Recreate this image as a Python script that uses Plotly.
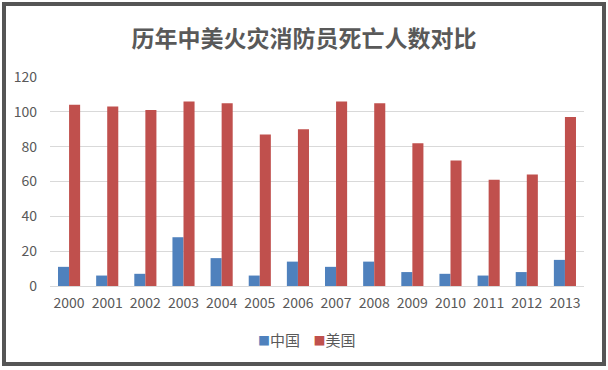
import plotly.graph_objects as go

years = ["2000", "2001", "2002", "2003", "2004", "2005", "2006",
         "2007", "2008", "2009", "2010", "2011", "2012", "2013"]
china = [11, 6, 7, 28, 16, 6, 14, 11, 14, 8, 7, 6, 8, 15]
usa = [104, 103, 101, 106, 105, 87, 90, 106, 105, 82, 72, 61, 64, 97]
series_names = ["中国", "美国"]
colors = ["#4F81BD", "#C0504D"]

W, H = 608, 370
L, R, T, B = 50, 24, 77, 84
pw, ph = W - L - R, H - T - B

def px(x):
    return (x - L) / pw

def py(y):
    return (H - B - y) / ph

FONT = "Noto Sans CJK SC, Microsoft YaHei, sans-serif"
GREY = "#595959"

fig = go.Figure()
for name, vals, col in zip(series_names, [china, usa], colors):
    fig.add_trace(go.Bar(x=years, y=vals, name=name, marker_color=col,
                         marker_line_width=0, showlegend=False))

legend_text = "&nbsp;&nbsp;&nbsp;&nbsp;".join(
    f"<span style='color:{c};font-size:12px'>■</span>{n}"
    for n, c in zip(series_names, colors))

fig.update_layout(
    width=W, height=H,
    margin=dict(l=L, r=R, t=T, b=B),
    paper_bgcolor="white", plot_bgcolor="white",
    barmode="group", bargap=0.42, bargroupgap=0,
    font=dict(family=FONT, color=GREY, size=13),
    title=dict(text="<b>历年中美火灾消防员死亡人数对比</b>",
               x=0.5, xanchor="center", y=1 - 39 / H, yanchor="middle",
               font=dict(size=23, color=GREY, family=FONT)),
    xaxis=dict(showgrid=False, showline=True, linecolor="#D9D9D9",
               linewidth=1, ticks="", tickfont=dict(size=14, color=GREY),
               ticklabelstandoff=4),
    yaxis=dict(range=[0, 120], dtick=20, showgrid=True, gridcolor="#D9D9D9",
               gridwidth=1, zeroline=False, showline=False, ticks="",
               tickfont=dict(size=14, color=GREY), ticklabelstandoff=12),
    annotations=[dict(text=legend_text, xref="paper", yref="paper",
                      x=px(307), y=py(339), xanchor="center", yanchor="middle",
                      showarrow=False, font=dict(size=15, color=GREY))],
    shapes=[dict(type="rect", xref="paper", yref="paper",
                 x0=px(4), x1=px(604), y0=py(364), y1=py(4),
                 line=dict(color="#555555", width=4), fillcolor="rgba(0,0,0,0)",
                 layer="above")],
)

fig.write_html("out.html", config={"displayModeBar": False},
               post_script="document.body.style.margin='0';document.body.style.padding='0';")
